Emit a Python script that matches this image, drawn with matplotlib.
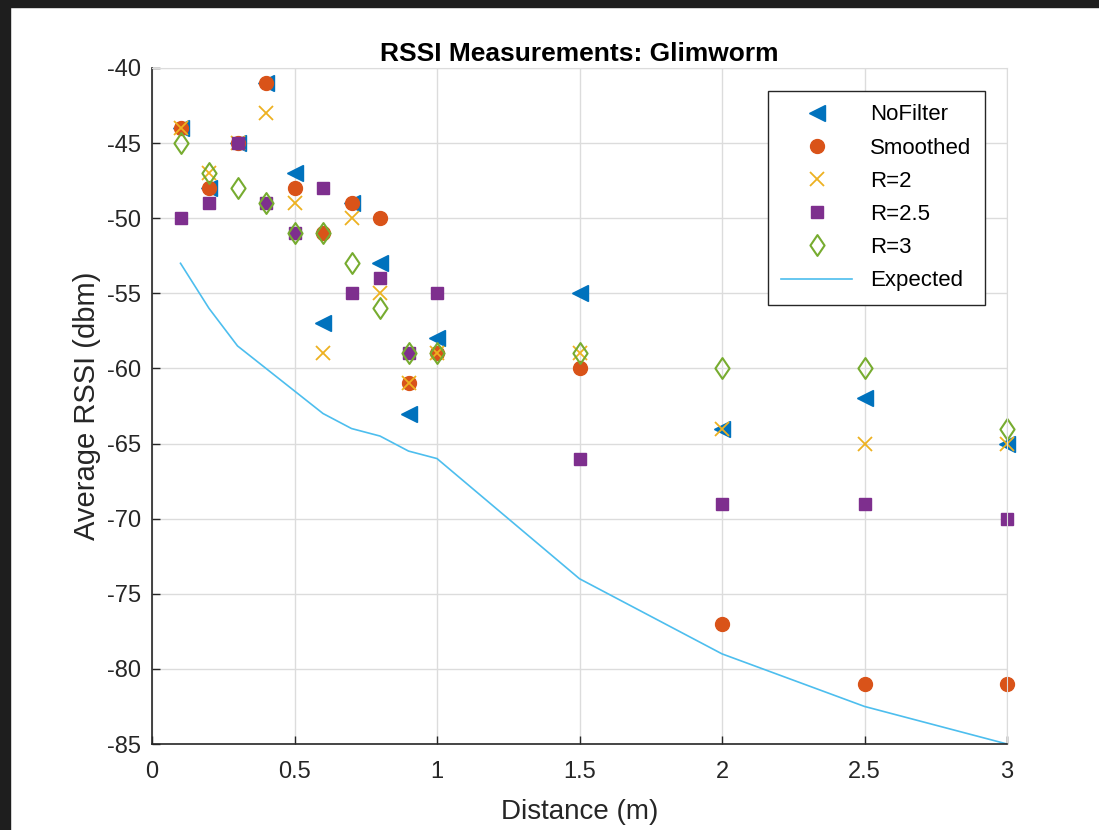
import matplotlib
matplotlib.use('Agg')
import matplotlib.pyplot as plt
from matplotlib.path import Path
from matplotlib.ticker import FormatStrFormatter

plt.rcParams['font.family'] = ['Liberation Sans', 'DejaVu Sans']
plt.rcParams['axes.unicode_minus'] = False

distance = [0.1, 0.2, 0.3, 0.4, 0.5, 0.6, 0.7, 0.8, 0.9, 1.0, 1.5, 2.0, 2.5, 3.0]
no_filter = [-44, -48, -45, -41, -47, -57, -49, -53, -63, -58, -55, -64, -62, -65]
smoothed = [-44, -48, -45, -41, -48, -51, -49, -50, -61, -59, -60, -77, -81, -81]
r_2 = [-44, -47, -45, -43, -49, -59, -50, -55, -61, -59, -59, -64, -65, -65]
r_25 = [-50, -49, -45, -49, -51, -48, -55, -54, -59, -55, -66, -69, -69, -70]
r_3 = [-45, -47, -48, -49, -51, -51, -53, -56, -59, -59, -59, -60, -60, -64]
expected = [-53, -56, -58.5, -60, -61.5, -63, -64, -64.5, -65.5, -66, -74, -79, -82.5, -85]

# tall diamond like MATLAB's 'd' marker
diamond = Path([(0, -1), (0.68, 0), (0, 1), (-0.68, 0), (0, -1)], closed=True)

fig = plt.figure(figsize=(10.99, 8.30), dpi=100)
fig.patch.set_facecolor('white')

# dark window frame along the top and left edges
fig.patches.append(plt.Rectangle((0, 1 - 7 / 830), 1, 7 / 830, transform=fig.transFigure,
                                 color='#1e1e1e', zorder=0))
fig.patches.append(plt.Rectangle((0, 0), 10 / 1099, 1, transform=fig.transFigure,
                                 color='#1e1e1e', zorder=0))

ax = fig.add_axes([152 / 1099, 86 / 830, 855 / 1099, 676 / 830])

ax.plot(distance, no_filter, '<', color='#0072BD', ms=11, label='NoFilter', clip_on=False)
ax.plot(distance, smoothed, 'o', color='#D95319', ms=10, label='Smoothed', clip_on=False)
ax.plot(distance, r_2, 'x', color='#EDB120', ms=10, mew=1.3, label='R=2', clip_on=False)
ax.plot(distance, r_25, 's', color='#7E2F8E', ms=8.5, label='R=2.5', clip_on=False)
ax.plot(distance, r_3, ls='none', marker=diamond, mfc='none', mec='#77AC30', ms=15,
        mew=1.5, label='R=3', clip_on=False)
ax.plot(distance, expected, '-', color='#4DBEEE', lw=1.2, label='Expected')

ax.set_xlim(0, 3)
ax.set_ylim(-85, -40)
ax.set_xticks([0, 0.5, 1, 1.5, 2, 2.5, 3])
ax.set_yticks(range(-85, -39, 5))
ax.xaxis.set_major_formatter(FormatStrFormatter('%g'))
ax.grid(True, color='#dcdcdc', lw=1.0)
ax.set_axisbelow(True)

for side in ['left', 'bottom']:
    ax.spines[side].set_color('#262626')
    ax.spines[side].set_linewidth(1.2)
for side in ['top', 'right']:
    ax.spines[side].set_color('#dcdcdc')
ax.tick_params(direction='in', length=6, width=1.0, color='#262626',
               labelsize=17, labelcolor='#262626')
ax.tick_params(axis='x', pad=12)
ax.tick_params(axis='y', pad=8)

ax.set_title('RSSI Measurements: Glimworm', fontsize=19, fontweight='bold', pad=5)
ax.set_xlabel('Distance (m)', fontsize=20, color='#262626', labelpad=12)
ax.set_ylabel('Average RSSI (dbm)', fontsize=21, color='#262626', labelpad=4)

leg = ax.legend(loc='upper right', bbox_to_anchor=(0.974, 0.966), fontsize=16,
                fancybox=False, framealpha=1, edgecolor='#262626',
                handlelength=3.2, borderpad=0.6, labelspacing=0.55, handletextpad=0.8,
                borderaxespad=0)
leg.get_frame().set_linewidth(1.0)

fig.savefig('out.png', dpi=100)
